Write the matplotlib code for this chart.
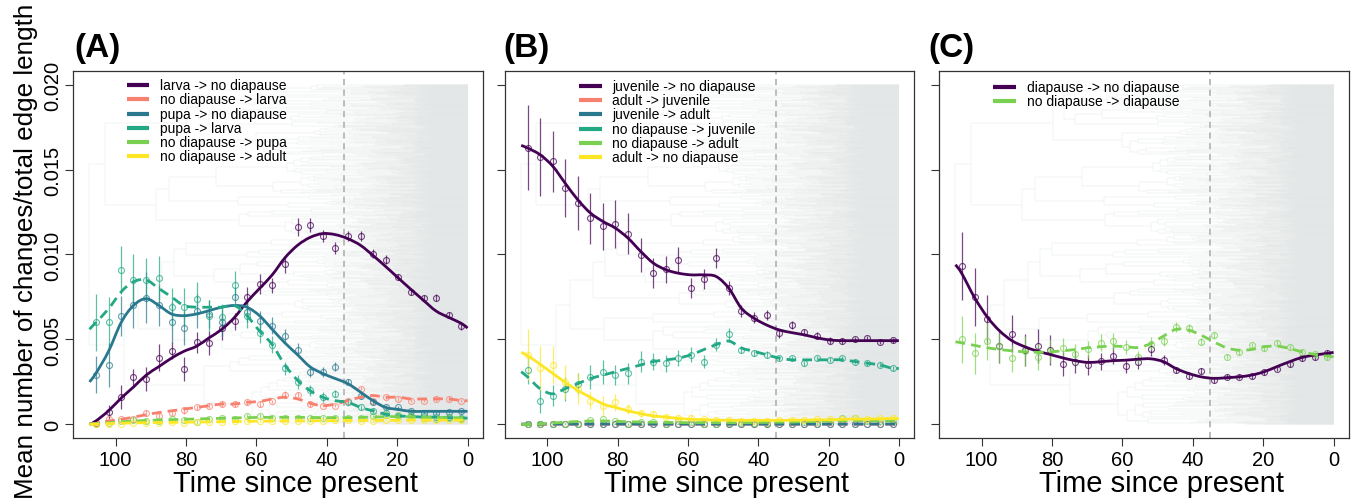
import numpy as np
import matplotlib
matplotlib.use("Agg")
import matplotlib.pyplot as plt
import matplotlib.transforms as mtransforms
from matplotlib.path import Path
from matplotlib.patches import PathPatch
from matplotlib.collections import LineCollection

plt.rcParams['font.family'] = ['Liberation Sans', 'DejaVu Sans']

# time bins (Ma before present), fitted curves also pinned at root age and present
ROOT_AGE = 107.4
BIN_AGE = [105.6, 102.0, 98.4, 94.9, 91.3, 87.7, 84.1, 80.6, 77.0, 73.4,
           69.8, 66.2, 62.7, 59.1, 55.5, 51.9, 48.3, 44.8, 41.2, 37.6,
           34.0, 30.4, 26.9, 23.3, 19.7, 16.1, 12.5, 9.0, 5.4, 1.8]
FIT_AGE = [ROOT_AGE] + BIN_AGE + [0.0]
SPLIT_AGE = 35

PURPLE = '#440154'
SALMON = '#F8806F'
TEAL = '#2A788E'
GREEN = '#22A884'
LIME = '#7AD151'
YELLOW = '#FDE725'

# ---------------- panel A ----------------
A_larva_nd = [0.0001, 0.00073, 0.00161, 0.00279, 0.00269, 0.00393, 0.00434, 0.00328, 0.00483, 0.00479,
              0.00567, 0.00608, 0.0075, 0.00828, 0.00818, 0.00942, 0.01162, 0.01172, 0.01107, 0.01038,
              0.01107, 0.01107, 0.01005, 0.0097, 0.00868, 0.00779, 0.00742, 0.00746, 0.00644, 0.00577]
A_larva_nd_se = [0.0001, 0.0004, 0.0007, 0.00045, 0.0007, 0.0008, 0.0005, 0.0007, 0.0006, 0.0007,
                 0.0007, 0.0005, 0.0006, 0.0006, 0.00045, 0.0005, 0.00055, 0.0004, 0.00035, 0.00035,
                 0.0003, 0.0003, 0.00025, 0.00025, 0.0002, 0.0002, 0.0002, 0.0002, 0.0002, 0.0002]
A_larva_nd_fit = [0.0, 0.0002, 0.0008, 0.00155, 0.0022, 0.0029, 0.0034, 0.0039, 0.0043, 0.0046, 0.0051,
                  0.0056, 0.0063, 0.0072, 0.0080, 0.0088, 0.0098, 0.01054, 0.0110, 0.01123, 0.01117,
                  0.01093, 0.01054, 0.00995, 0.0093, 0.00862, 0.00795, 0.0073, 0.00668, 0.0063, 0.00595, 0.00567]

A_nd_larva = [0.0001, 0.0003, 0.0003, 0.00033, 0.00067, 0.0005, 0.00067, 0.00082, 0.001, 0.0011,
              0.0012, 0.0012, 0.0013, 0.0012, 0.00135, 0.00175, 0.00175, 0.0012, 0.0011, 0.0011,
              0.0014, 0.0021, 0.0014, 0.0016, 0.0015, 0.0014, 0.0014, 0.0015, 0.0015, 0.0014]
A_nd_larva_se = [0.00005, 0.0001, 0.0001, 0.0001, 0.0002, 0.00015, 0.00015, 0.0002, 0.00015, 0.00015,
                 0.0002, 0.00015, 0.00015, 0.00015, 0.0001, 0.0002, 0.00015, 0.00015, 0.0001, 0.0001,
                 0.0001, 0.0001, 0.0001, 0.0001, 0.0001, 0.0001, 0.0001, 0.0001, 0.0001, 0.0001]
A_nd_larva_fit = [0.00004, 0.00006, 0.0002, 0.0003, 0.00043, 0.00057, 0.0007, 0.0008, 0.0009, 0.001, 0.0011,
                  0.0012, 0.0012, 0.0013, 0.00135, 0.0015, 0.0016, 0.0015, 0.00125, 0.0011, 0.0012,
                  0.0014, 0.0016, 0.0017, 0.0016, 0.0016, 0.0015, 0.0015, 0.0015, 0.0015, 0.0014, 0.0014]

A_pupa_nd = [0.00292, 0.00351, 0.00638, 0.0070, 0.00746, 0.0070, 0.0060, 0.0057, 0.0067, 0.0065,
             0.0060, 0.0075, 0.0066, 0.0061, 0.0058, 0.0052, 0.0044, 0.0031, 0.0031, 0.0034,
             0.0025, 0.0017, 0.0013, 0.001, 0.001, 0.0008, 0.0007, 0.0007, 0.00075, 0.00077]
A_pupa_nd_se = [0.0011, 0.0013, 0.0012, 0.0013, 0.0015, 0.0012, 0.0012, 0.0010, 0.0010, 0.0008,
                0.0008, 0.0006, 0.0006, 0.0006, 0.0005, 0.0004, 0.0004, 0.0003, 0.0003, 0.00025,
                0.0002, 0.0002, 0.00015, 0.00015, 0.0001, 0.0001, 0.0001, 0.0001, 0.0001, 0.0001]
A_pupa_nd_fit = [0.0025, 0.003, 0.0043, 0.006, 0.007, 0.0074, 0.007, 0.0065, 0.0064, 0.0065, 0.0067,
                 0.0069, 0.007, 0.0069, 0.0064, 0.0056, 0.0048, 0.0041, 0.0034, 0.003, 0.0027,
                 0.0024, 0.0019, 0.0014, 0.001, 0.00088, 0.00077, 0.00077, 0.00077, 0.00077, 0.00077, 0.00077]

A_pupa_larva = [0.0060, 0.0060, 0.0091, 0.0085, 0.0085, 0.0086, 0.0069, 0.0069, 0.0074, 0.0064,
                0.0063, 0.0082, 0.0064, 0.0054, 0.0047, 0.0033, 0.0025, 0.002, 0.0016, 0.0018,
                0.0013, 0.001, 0.0008, 0.0007, 0.0005, 0.0005, 0.00048, 0.00045, 0.00042, 0.0004]
A_pupa_larva_se = [0.0017, 0.0015, 0.0014, 0.0015, 0.0013, 0.0013, 0.0011, 0.0011, 0.0010, 0.0009,
                   0.0008, 0.0008, 0.0007, 0.0006, 0.0005, 0.0004, 0.0004, 0.0003, 0.0003, 0.0002,
                   0.0002, 0.00015, 0.00015, 0.0001, 0.0001, 0.0001, 0.0001, 0.0001, 0.0001, 0.0001]
A_pupa_larva_fit = [0.0056, 0.006, 0.0068, 0.0078, 0.0084, 0.0085, 0.008, 0.0075, 0.007, 0.0069, 0.0069,
                    0.0069, 0.007, 0.0064, 0.0055, 0.0047, 0.0035, 0.0026, 0.002, 0.0016, 0.0014,
                    0.0013, 0.001, 0.0008, 0.0006, 0.0005, 0.00047, 0.00043, 0.00043, 0.0004, 0.00038, 0.00037]

A_nd_pupa = [0.00004, 0.0001, 0.0002, 0.00027, 0.0002, 0.0002, 0.0003, 0.00028, 0.00014, 0.0003,
             0.0004, 0.0003, 0.0005, 0.0005, 0.0004, 0.0004, 0.00038, 0.00038, 0.00038, 0.0004,
             0.0004, 0.0004, 0.00047, 0.00053, 0.00053, 0.00047, 0.0004, 0.00033, 0.0004, 0.00033]
A_nd_pupa_se = [0.00004, 0.0001, 0.0001, 0.0001, 0.0001, 0.0001, 0.0001, 0.0001, 0.0001, 0.0001,
                0.0001, 0.0001, 0.0001, 0.0001, 0.0001, 0.0001, 0.0001, 0.0001, 0.0001, 0.0001,
                0.0001, 0.0001, 0.0001, 0.0001, 0.0001, 0.0001, 0.0001, 0.0001, 0.0001, 0.0001]
A_nd_pupa_fit = [0.00003, 0.00005, 0.0001, 0.00015, 0.0002, 0.00023, 0.00026, 0.00028, 0.0003, 0.00032, 0.00034,
                 0.00036, 0.00038, 0.0004, 0.00041, 0.00042, 0.00042, 0.00042, 0.00041, 0.0004, 0.0004,
                 0.0004, 0.00041, 0.00043, 0.00045, 0.00046, 0.00045, 0.00043, 0.00041, 0.0004, 0.00039, 0.00038]

A_nd_adult = [0.0, 0.0, 0.00005, 0.0001, 0.0001, 0.0001, 0.00012, 0.0001, 0.00012, 0.00015,
              0.00015, 0.00018, 0.0002, 0.0002, 0.00018, 0.0002, 0.0002, 0.00022, 0.00022, 0.00025,
              0.00025, 0.00022, 0.0002, 0.00025, 0.00025, 0.00028, 0.00025, 0.00025, 0.00025, 0.00025]
A_nd_adult_se = [0.00002, 0.00003, 0.00005, 0.00005, 0.00005, 0.00005, 0.00005, 0.00005, 0.00005, 0.00005,
                 0.00005, 0.00005, 0.00005, 0.00005, 0.00005, 0.00005, 0.00005, 0.00005, 0.00005, 0.00005,
                 0.00005, 0.00005, 0.00005, 0.00005, 0.00005, 0.00005, 0.00005, 0.00005, 0.00005, 0.00005]
A_nd_adult_fit = [0.0, 0.00002, 0.00005, 0.00007, 0.00009, 0.0001, 0.00011, 0.00012, 0.00013, 0.00014, 0.00015,
                  0.00016, 0.00017, 0.00018, 0.00019, 0.0002, 0.0002, 0.00021, 0.00021, 0.00022, 0.00022,
                  0.00023, 0.00023, 0.00023, 0.00024, 0.00024, 0.00025, 0.00025, 0.00025, 0.00025, 0.00025, 0.00025]

# ---------------- panel B ----------------
B_juv_nd = [0.01627, 0.01572, 0.01548, 0.01391, 0.01303, 0.01214, 0.01165, 0.01179, 0.01122, 0.00998,
            0.0089, 0.00914, 0.00969, 0.00802, 0.00857, 0.00978, 0.00802, 0.00668, 0.00629, 0.00644,
            0.00536, 0.00585, 0.00542, 0.00523, 0.00493, 0.00491, 0.00501, 0.00507, 0.00487, 0.00495]
B_juv_nd_se = [0.0025, 0.0023, 0.0018, 0.0017, 0.0016, 0.0015, 0.0014, 0.0014, 0.0012, 0.001,
               0.0009, 0.0008, 0.00075, 0.0006, 0.0006, 0.0006, 0.0004, 0.00035, 0.0003, 0.0003,
               0.00025, 0.00025, 0.0002, 0.0002, 0.0002, 0.00015, 0.00015, 0.00015, 0.00015, 0.00015]
B_juv_nd_fit = [0.01642, 0.01627, 0.01587, 0.01519, 0.0142, 0.01322, 0.01244, 0.01194, 0.01155, 0.01096, 0.01018,
                0.00949, 0.0091, 0.0089, 0.0088, 0.0088, 0.0087, 0.008, 0.00684, 0.00625, 0.00585,
                0.00556, 0.0054, 0.00527, 0.0051, 0.00497, 0.00493, 0.00493, 0.00493, 0.00493, 0.00493, 0.00493]

B_adult_juv = [0.00001, 0.00001, 0.00001, 0.00001, 0.00001, 0.00001, 0.00001, 0.00001, 0.00001, 0.00001,
               0.00001, 0.00001, 0.00001, 0.00001, 0.00001, 0.00001, 0.00001, 0.00001, 0.00001, 0.00001,
               0.00001, 0.00001, 0.00001, 0.00001, 0.00001, 0.00001, 0.00001, 0.00001, 0.00001, 0.00001]
B_adult_juv_se = [0.00001] * 30
B_adult_juv_fit = [0.00001] * 32

B_juv_adult = [0.00002, 0.00002, 0.00003, 0.00003, 0.00003, 0.00002, 0.00003, 0.00003, 0.00002, 0.00003,
               0.00003, 0.00002, 0.00003, 0.00003, 0.00002, 0.00003, 0.00002, 0.00002, 0.00003, 0.00002,
               0.00003, 0.00003, 0.00002, 0.00003, 0.00002, 0.00003, 0.00002, 0.00003, 0.00002, 0.00003]
B_juv_adult_se = [0.00003] * 30
B_juv_adult_fit = [0.00002] * 32

B_nd_juv = [0.0032, 0.0014, 0.0017, 0.0021, 0.0024, 0.0028, 0.0031, 0.0029, 0.003, 0.0037,
            0.0037, 0.0036, 0.0039, 0.0041, 0.0037, 0.0047, 0.0053, 0.0044, 0.0042, 0.0041,
            0.0039, 0.0039, 0.0036, 0.0039, 0.0038, 0.0039, 0.0037, 0.0036, 0.0035, 0.0033]
B_nd_juv_se = [0.0008, 0.0007, 0.0006, 0.0007, 0.0006, 0.0007, 0.0007, 0.0006, 0.0006, 0.0006,
               0.0005, 0.0005, 0.00045, 0.00045, 0.0004, 0.0004, 0.00035, 0.0002, 0.0002, 0.0002,
               0.00015, 0.00015, 0.00015, 0.00015, 0.00015, 0.00015, 0.00015, 0.00015, 0.00015, 0.00015]
B_nd_juv_fit = [0.0031, 0.0028, 0.0021, 0.0018, 0.0021, 0.0024, 0.0027, 0.0029, 0.0031, 0.0033, 0.0035,
                0.0037, 0.0038, 0.0039, 0.0041, 0.0044, 0.0047, 0.0049, 0.0045, 0.0043, 0.0041,
                0.0039, 0.0038, 0.0038, 0.0038, 0.0038, 0.0038, 0.0037, 0.0036, 0.0035, 0.0033, 0.0033]

B_nd_adult = [0.0, 0.0, 0.00002, 0.00002, 0.00002, 0.00025, 0.0003, 0.0002, 0.00002, 0.00015,
              0.00015, 0.00002, 0.0002, 0.00015, 0.00005, 0.00005, 0.0001, 0.0001, 0.0001, 0.0001,
              0.00012, 0.00015, 0.00015, 0.00015, 0.0002, 0.00035, 0.00035, 0.0002, 0.0002, 0.0002]
B_nd_adult_se = [0.00005] * 30
B_nd_adult_fit = [0.0, 0.0, 0.00003, 0.00008, 0.00013, 0.00017, 0.0002, 0.0002, 0.00018, 0.00016, 0.00014,
                  0.00013, 0.00012, 0.00011, 0.0001, 0.0001, 0.0001, 0.0001, 0.0001, 0.00011, 0.00012,
                  0.00013, 0.00014, 0.00016, 0.00018, 0.0002, 0.00022, 0.00023, 0.00022, 0.00021, 0.0002, 0.0002]

B_adult_nd = [0.0041, 0.0033, 0.0035, 0.0025, 0.0021, 0.0014, 0.0011, 0.0013, 0.0009, 0.00065,
              0.0006, 0.00045, 0.0004, 0.0004, 0.0003, 0.00025, 0.00025, 0.0002, 0.0002, 0.0002,
              0.00025, 0.00025, 0.00025, 0.0003, 0.0003, 0.0003, 0.00035, 0.0003, 0.00035, 0.00035]
B_adult_nd_se = [0.0015, 0.0013, 0.0011, 0.001, 0.0009, 0.0005, 0.0006, 0.0005, 0.0003, 0.0002,
                 0.0002, 0.00015, 0.00015, 0.0001, 0.0001, 0.0001, 0.0001, 0.0001, 0.0001, 0.0001,
                 0.0001, 0.0001, 0.0001, 0.0001, 0.0001, 0.0001, 0.0001, 0.0001, 0.0001, 0.0001]
B_adult_nd_fit = [0.00424, 0.00405, 0.00354, 0.003, 0.00248, 0.002, 0.0016, 0.0012, 0.001, 0.0008, 0.00063,
                  0.0005, 0.00043, 0.00035, 0.0003, 0.00028, 0.00025, 0.00024, 0.00024, 0.00024, 0.00024,
                  0.00024, 0.00025, 0.00025, 0.00027, 0.00027, 0.0003, 0.00031, 0.00031, 0.00033, 0.00035, 0.00035]

# ---------------- panel C ----------------
C_dia_nd = [0.00933, 0.00751, 0.0062, 0.00461, 0.00535, 0.00437, 0.00461, 0.00437, 0.00355, 0.00369,
            0.00349, 0.00373, 0.00404, 0.00343, 0.00369, 0.00441, 0.00378, 0.0032, 0.00286, 0.00314,
            0.00261, 0.0028, 0.0028, 0.00284, 0.00306, 0.00329, 0.00355, 0.00388, 0.00394, 0.00422]
C_dia_nd_se = [0.002, 0.0017, 0.0014, 0.001, 0.0011, 0.00095, 0.001, 0.0009, 0.0007, 0.00065,
               0.0006, 0.0005, 0.0005, 0.0004, 0.0004, 0.0004, 0.0003, 0.0002, 0.0002, 0.0002,
               0.0002, 0.00015, 0.00015, 0.00015, 0.00015, 0.00015, 0.00015, 0.00015, 0.00015, 0.00015]
C_dia_nd_fit = [0.0094, 0.00888, 0.00747, 0.00633, 0.00551, 0.00492, 0.00457, 0.00431, 0.00412, 0.00392, 0.00375,
                0.00365, 0.00369, 0.00375, 0.00378, 0.00384, 0.00386, 0.00369, 0.00329, 0.003, 0.0028,
                0.00271, 0.00275, 0.0028, 0.0029, 0.0031, 0.0034, 0.00369, 0.00394, 0.00408, 0.00418, 0.00424]

C_nd_dia = [0.005, 0.00418, 0.0049, 0.0046, 0.00388, 0.00433, 0.00398, 0.00433, 0.00451, 0.00412,
            0.00441, 0.0048, 0.0049, 0.00457, 0.00394, 0.00476, 0.0049, 0.00575, 0.00565, 0.00486,
            0.00525, 0.00398, 0.00424, 0.00467, 0.00447, 0.00482, 0.00453, 0.00427, 0.00414, 0.00394]
C_nd_dia_se = [0.0014, 0.0012, 0.0011, 0.001, 0.0008, 0.0009, 0.0008, 0.0007, 0.0006, 0.0006,
               0.0005, 0.0005, 0.0005, 0.0004, 0.0004, 0.0004, 0.0003, 0.0003, 0.00025, 0.0002,
               0.0002, 0.00015, 0.00015, 0.00015, 0.00015, 0.00015, 0.00015, 0.00015, 0.00015, 0.00015]
C_nd_dia_fit = [0.00486, 0.0048, 0.00465, 0.00451, 0.00441, 0.00433, 0.00427, 0.00424, 0.00427, 0.00433, 0.00441,
                0.00451, 0.00457, 0.00461, 0.00457, 0.00453, 0.00476, 0.0052, 0.00559, 0.00555, 0.00525,
                0.00486, 0.00451, 0.00437, 0.00441, 0.00457, 0.00461, 0.00447, 0.00427, 0.00412, 0.00402, 0.00398]

PANELS = [
    ('(A)', [
        ('larva -> no diapause', PURPLE, False, A_larva_nd, A_larva_nd_se, A_larva_nd_fit),
        ('no diapause -> larva', SALMON, True, A_nd_larva, A_nd_larva_se, A_nd_larva_fit),
        ('pupa -> no diapause', TEAL, False, A_pupa_nd, A_pupa_nd_se, A_pupa_nd_fit),
        ('pupa -> larva', GREEN, True, A_pupa_larva, A_pupa_larva_se, A_pupa_larva_fit),
        ('no diapause -> pupa', LIME, True, A_nd_pupa, A_nd_pupa_se, A_nd_pupa_fit),
        ('no diapause -> adult', YELLOW, True, A_nd_adult, A_nd_adult_se, A_nd_adult_fit),
    ]),
    ('(B)', [
        ('juvenile -> no diapause', PURPLE, False, B_juv_nd, B_juv_nd_se, B_juv_nd_fit),
        ('adult -> juvenile', SALMON, True, B_adult_juv, B_adult_juv_se, B_adult_juv_fit),
        ('juvenile -> adult', TEAL, True, B_juv_adult, B_juv_adult_se, B_juv_adult_fit),
        ('no diapause -> juvenile', GREEN, True, B_nd_juv, B_nd_juv_se, B_nd_juv_fit),
        ('no diapause -> adult', LIME, True, B_nd_adult, B_nd_adult_se, B_nd_adult_fit),
        ('adult -> no diapause', YELLOW, False, B_adult_nd, B_adult_nd_se, B_adult_nd_fit),
    ]),
    ('(C)', [
        ('diapause -> no diapause', PURPLE, False, C_dia_nd, C_dia_nd_se, C_dia_nd_fit),
        ('no diapause -> diapause', LIME, True, C_nd_dia, C_nd_dia_se, C_nd_dia_fit),
    ]),
]


def tree_segments(n_tips, root_age, y_top):
    """Ladderised backbone tree used as a faint backdrop."""
    segs = []
    count = [0]
    scale = y_top / (n_tips - 1)

    def node(lo, hi, parent_age):
        n = hi - lo
        if n == 1:
            y = lo * scale
            segs.append([(parent_age, y), (0.0, y)])
            return y
        count[0] += 1
        k = count[0]
        u = (k * 0.6180339887) % 1.0
        w = (k * 0.7548776662) % 1.0
        if parent_age is None:
            age = root_age
        else:
            age = min(parent_age * 0.96,
                      root_age * (np.log(n) / np.log(n_tips)) ** 0.9 * (0.75 + 0.45 * w))
        m = int(round(n * (0.25 + 0.5 * u)))
        m = min(max(m, 1), n - 1)
        y1 = node(lo, lo + m, age)
        y2 = node(lo + m, hi, age)
        segs.append([(age, y1), (age, y2)])
        y = 0.5 * (y1 + y2)
        if parent_age is not None:
            segs.append([(parent_age, y), (age, y)])
        return y

    node(0, n_tips, None)
    return segs


def smooth_path(xs, ys):
    pts = np.column_stack([xs, ys])
    verts = [pts[0]]
    codes = [Path.MOVETO]
    for i in range(len(pts) - 1):
        p0 = pts[i - 1] if i > 0 else pts[i]
        p1, p2 = pts[i], pts[i + 1]
        p3 = pts[i + 2] if i + 2 < len(pts) else pts[i + 1]
        verts += [p1 + (p2 - p0) / 6.0, p2 - (p3 - p1) / 6.0, p2]
        codes += [Path.CURVE4] * 3
    return Path(verts, codes)


W, H = 1354, 502
fig = plt.figure(figsize=(W / 100, H / 100), dpi=100)

# axes boxes in pixels: left, right
BOXES = [(73.3, 482.7), (505.0, 914.0), (939.3, 1348.7)]
TOP, BOTTOM = 72.0, 439.0
LABEL_X = [74, 503, 928]
KEY_X = [0.130, 0.181, 0.132]
KEY_Y = [0.962, 0.960, 0.956]

TREE = tree_segments(1400, ROOT_AGE, 0.020)

for p, ((title, series), (l, r)) in enumerate(zip(PANELS, BOXES)):
    ax = fig.add_axes([l / W, 1 - BOTTOM / H, (r - l) / W, (BOTTOM - TOP) / H])
    ax.set_xlim(112.0, -4.3)
    ax.set_ylim(-0.0008, 0.0208)

    ax.add_collection(LineCollection(TREE, colors='#e2e5e5', linewidths=0.32, zorder=0))
    ax.axvline(SPLIT_AGE, color='#aaaaaa', lw=1.1, ls=(0, (4, 3)), zorder=1)

    for label, color, dashed, pts, se, fit in series:
        ax.errorbar(BIN_AGE, pts, yerr=se, fmt='o', mfc='none', mec=color, ecolor=color,
                    ms=4.3, mew=0.8, elinewidth=0.9, capsize=0, alpha=0.72, zorder=2)
        ls = (0, (3.5, 2.2)) if dashed else '-'
        ax.add_patch(PathPatch(smooth_path(FIT_AGE, fit), fill=False, edgecolor=color,
                               lw=2.0, linestyle=ls, capstyle='butt', zorder=3))

    # key
    dy = 14.3 / (BOTTOM - TOP)
    for j, (label, color, *_rest) in enumerate(series):
        yk = KEY_Y[p] - j * dy
        ax.plot([KEY_X[p], KEY_X[p] + 0.056], [yk, yk], color=color, lw=3,
                solid_capstyle='butt', transform=ax.transAxes, zorder=4)
        ax.text(KEY_X[p] + 0.081, yk, label, fontsize=10, va='center', ha='left',
                transform=ax.transAxes, zorder=4)

    ax.set_xticks([100, 80, 60, 40, 20, 0])
    ax.set_xticklabels(['100', '80', '60', '40', '20', '0'])
    ax.set_yticks([0, 0.005, 0.010, 0.015, 0.020])
    ax.tick_params(axis='both', direction='out', length=5.5, width=0.8, color='#333333',
                   labelsize=14.5)
    ax.tick_params(axis='x', pad=3.5)
    ax.tick_params(axis='y', pad=2.5)
    if p == 0:
        ax.set_yticklabels(['0', '0.005', '0.010', '0.015', '0.020'])
        for lab in ax.get_yticklabels():
            lab.set_rotation(90)
            lab.set_va('center')
            lab.set_ha('right')
    else:
        ax.set_yticklabels([])
    for s in ax.spines.values():
        s.set_color('#333333')
        s.set_linewidth(0.9)

    trans = mtransforms.blended_transform_factory(ax.transData, ax.transAxes)
    ax.text(49, -0.1436, 'Time since present', transform=trans, ha='center',
            va='baseline', fontsize=21)
    fig.text(LABEL_X[p] / W, 1 - 57 / H, title, fontsize=24, fontweight='bold',
             ha='left', va='baseline')

fig.text(26 / W, 0.5, 'Mean number of changes/total edge length', rotation=90,
         fontsize=18.7, ha='center', va='center')

fig.savefig('out.png', dpi=100)
